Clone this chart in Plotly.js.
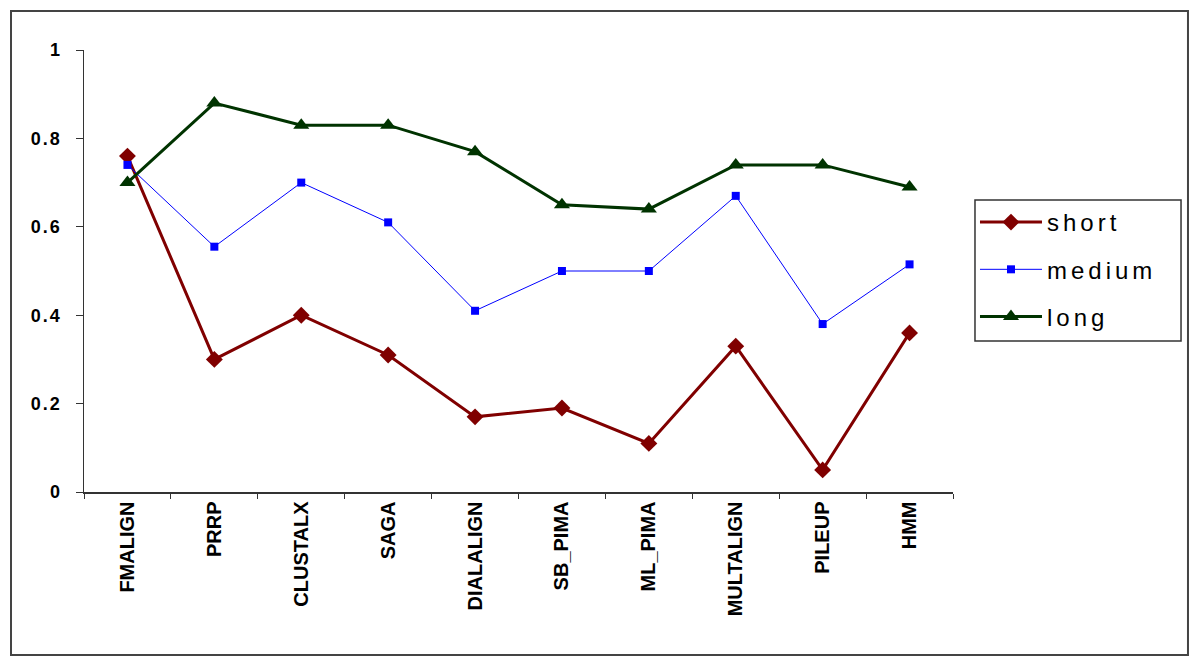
<!DOCTYPE html>
<html>
<head>
<meta charset="utf-8">
<script src="https://cdn.plot.ly/plotly-3.0.1.min.js"></script>
<style>
html,body{margin:0;padding:0;background:#fff;}
#chart{width:1200px;height:665px;}
#chart .legendtext{letter-spacing:4px;}
#chart g.legend g.scrollbox{clip-path:none !important;}
#chart g.legend{clip-path:none !important;}
#chart .ytick text{letter-spacing:2px;}
</style>
</head>
<body>
<div id="chart"></div>
<script>
const categories = ["FMALIGN","PRRP","CLUSTALX","SAGA","DIALALIGN","SB_PIMA","ML_PIMA","MULTALIGN","PILEUP","HMM"];
const shortVals  = [0.76, 0.30, 0.40, 0.31, 0.17, 0.19, 0.11, 0.33, 0.05, 0.36];
const mediumVals = [0.74, 0.555, 0.70, 0.61, 0.41, 0.50, 0.50, 0.67, 0.38, 0.515];
const longVals   = [0.70, 0.88, 0.83, 0.83, 0.77, 0.65, 0.64, 0.74, 0.74, 0.69];
const yTicks = [0, 0.2, 0.4, 0.6, 0.8, 1];

const traces = [
  {name:"short", x:categories, y:shortVals, type:"scatter", mode:"lines+markers",
   line:{color:"#800000", width:3}, marker:{symbol:"diamond", size:13, color:"#800000"},
   legendgroup:"a", cliponaxis:false},
  {name:"medium", x:categories, y:mediumVals, type:"scatter", mode:"lines+markers",
   line:{color:"#0000FF", width:1}, marker:{symbol:"square", size:8, color:"#0000FF"},
   legendgroup:"b", cliponaxis:false},
  {name:"long", x:categories, y:longVals, type:"scatter", mode:"lines+markers",
   line:{color:"#003300", width:3}, marker:{symbol:"triangle-up", size:14, color:"#003300"},
   legendgroup:"c", cliponaxis:false}
];

const layout = {
  width:1200, height:665,
  margin:{l:84, r:247, t:50, b:173},
  paper_bgcolor:"#fff", plot_bgcolor:"#fff",
  font:{family:"Liberation Sans, Arial, sans-serif", color:"#000"},
  showlegend:true,
  legend:{x:1.0253, y:0.6606, xanchor:"left", yanchor:"top",
    borderwidth:0, bgcolor:"rgba(0,0,0,0)",
    font:{size:24, family:"Liberation Sans, Arial, sans-serif"},
    tracegroupgap:13, itemwidth:62},
  xaxis:{type:"category", range:[-0.5, 9.5], tickson:"boundaries",
    ticks:"outside", ticklen:5, tickcolor:"#333", tickwidth:1,
    showline:true, linecolor:"#333", linewidth:1.5,
    showgrid:false, zeroline:false, tickangle:-90,
    tickfont:{size:20, family:"Liberation Sans, Arial, sans-serif", weight:"bold"}},
  yaxis:{range:[0,1], tickvals:yTicks, ticktext:yTicks.map(String),
    ticks:"outside", ticklen:7, tickcolor:"#333", tickwidth:1,
    showline:true, linecolor:"#333", linewidth:1.5,
    showgrid:false, zeroline:false, ticklabelstandoff:10,
    tickfont:{size:18, family:"Liberation Sans, Arial, sans-serif", weight:"bold"}},
  shapes:[
    {type:"rect", xref:"paper", yref:"paper", x0:-0.084, x1:1.2704, y0:-0.369, y1:1.088,
     line:{color:"#444", width:2}, fillcolor:"rgba(0,0,0,0)", layer:"below"},
    {type:"rect", xref:"paper", yref:"paper", x0:1.0253, x1:1.2624, y0:0.3416, y1:0.6606,
     line:{color:"#333", width:1.5}, fillcolor:"rgba(0,0,0,0)", layer:"below"}
  ]
};

Plotly.newPlot("chart", traces, layout, {displayModeBar:false, staticPlot:true});
</script>
</body>
</html>
